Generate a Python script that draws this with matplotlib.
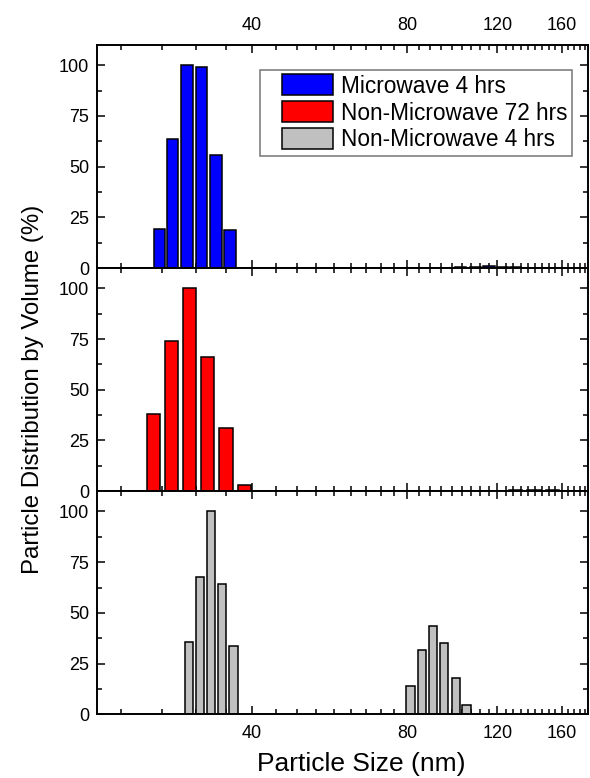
import numpy as np
import matplotlib
matplotlib.use("Agg")
import matplotlib.pyplot as plt
from matplotlib.ticker import FixedLocator, NullFormatter, FixedFormatter
from matplotlib.patches import Rectangle
from matplotlib.legend_handler import HandlerPatch

plt.rcParams['font.family'] = ['Liberation Sans', 'DejaVu Sans']

# ---------------- data ----------------
mw4_size = [26.4, 28.0, 29.9, 31.9, 34.0, 36.2, 101.6, 108.9, 115.6, 122.7, 130.2]
mw4_vol = [19.1, 63.8, 100.0, 98.9, 55.6, 18.9, 0.4, 0.7, 1.0, 0.7, 0.4]

nmw72_size = [25.7, 27.9, 30.2, 32.8, 35.6, 38.6, 130.0, 141.3, 153.8]
nmw72_vol = [38.0, 73.9, 100.0, 66.4, 31.2, 2.8, 0.5, 0.8, 0.5]

nmw4_size = [30.2, 31.7, 33.3, 35.0, 36.8, 81.3, 85.7, 90.0, 94.6, 99.5, 104.5]
nmw4_vol = [35.8, 67.9, 100.0, 64.3, 33.7, 14.0, 31.7, 43.7, 35.0, 17.8, 4.6]

labels = ["Microwave 4 hrs", "Non-Microwave 72 hrs", "Non-Microwave 4 hrs"]
colors = ["#0000FF", "#FF0000", "#C0C0C0"]
x_major = [40, 80, 120, 160]
y_major = [0, 25, 50, 75, 100]

# bar widths in octaves (log2 units) per panel
bar_oct = [0.074, 0.085, 0.053]

series = [(mw4_size, mw4_vol), (nmw72_size, nmw72_vol), (nmw4_size, nmw4_vol)]

fig = plt.figure(figsize=(5.9, 7.78), dpi=100)
axes = fig.subplots(3, 1, sharex=True)
fig.subplots_adjust(left=0.1649, right=0.9966, top=0.9422, bottom=0.0819, hspace=0)

minor_x = [k * 40 / 9 for k in range(5, 41) if k % 9 != 0]

handles = []
for i, ax in enumerate(axes):
    s, v = series[i]
    s = np.asarray(s, float)
    half = 2 ** (bar_oct[i] / 2)
    left = s / half
    width = s * half - left
    b = ax.bar(left, v, width=width, align='edge', color=colors[i],
               edgecolor='black', linewidth=1.1, label=labels[i], zorder=2)
    handles.append(b.patches[0])
    ax.set_xscale('log')
    ax.set_xlim(20, 180)
    ax.set_ylim(0, 110)
    ax.xaxis.set_major_locator(FixedLocator(x_major))
    ax.xaxis.set_major_formatter(FixedFormatter([str(t) for t in x_major]))
    ax.xaxis.set_minor_locator(FixedLocator(minor_x))
    ax.xaxis.set_minor_formatter(NullFormatter())
    ax.yaxis.set_major_locator(FixedLocator(y_major))
    ax.yaxis.set_minor_locator(FixedLocator([12.5, 37.5, 62.5, 87.5]))
    ax.tick_params(which='both', direction='in', top=True, right=True,
                   width=1.1, labelsize=13)
    ax.tick_params(which='major', length=6)
    ax.tick_params(which='minor', length=3.5)
    ax.tick_params(axis='y', pad=6)
    ax.tick_params(axis='x', pad=8)
    for sp in ax.spines.values():
        sp.set_linewidth(1.4)
    ax.tick_params(axis='x', labelbottom=False, labeltop=False)

axes[0].tick_params(axis='x', labeltop=True)
axes[2].tick_params(axis='x', labelbottom=True)


def offset_patch(legend, orig_handle, xdescent, ydescent, width, height, fontsize):
    w = 2.25 * fontsize
    return Rectangle((width - xdescent - w, -ydescent), w, height)


leg = axes[0].legend(handles, labels, loc='upper right', bbox_to_anchor=(0.967, 0.888),
                     borderaxespad=0, fontsize=16.3, frameon=True, fancybox=False,
                     edgecolor='#808080', framealpha=1, borderpad=0.2,
                     handlelength=3.0, handleheight=1.05, handletextpad=0.35,
                     labelspacing=0.16,
                     handler_map={Rectangle: HandlerPatch(patch_func=offset_patch)})
leg.get_frame().set_linewidth(1.2)

fig.supylabel("Particle Distribution by Volume (%)", fontsize=17.3, x=0.037)
fig.supxlabel("Particle Size (nm)", fontsize=19, x=0.612, y=0.002)

fig.savefig("out.png", dpi=100)
